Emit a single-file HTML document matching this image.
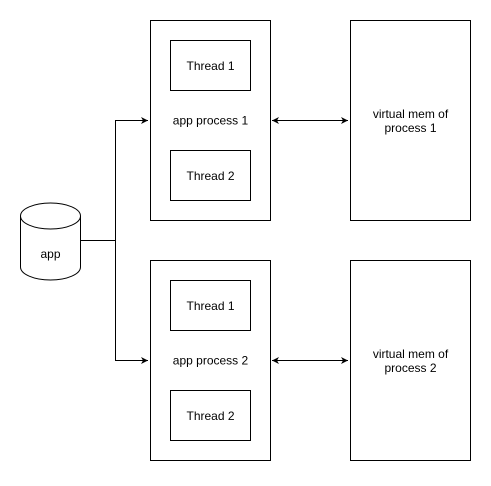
<!DOCTYPE html>
<html><head><style>body{margin:0;background:#fff}</style></head><body>
<svg width="491" height="481" xmlns="http://www.w3.org/2000/svg" font-family="Liberation Sans, sans-serif" font-size="12">
<defs><marker id="a" markerWidth="8" markerHeight="8" refX="7" refY="4" orient="auto-start-reverse" markerUnits="userSpaceOnUse"><path d="M0,0.5 L7,4 L0,7.5 L2,4 Z" fill="#000"/></marker></defs>
<g fill="#fff" stroke="#000" stroke-width="1">
<rect x="150.5" y="20.5" width="120" height="200"/>
<rect x="170.5" y="40.5" width="80" height="50"/>
<rect x="170.5" y="150.5" width="80" height="50"/>
<rect x="350.5" y="20.5" width="120" height="200"/>
<rect x="150.5" y="260.5" width="120" height="200"/>
<rect x="170.5" y="280.5" width="80" height="50"/>
<rect x="170.5" y="390.5" width="80" height="50"/>
<rect x="350.5" y="260.5" width="120" height="200"/>
<path d="M20.5,216 A30,13 0 0 1 80.5,216 L80.5,267 A30,13 0 0 1 20.5,267 Z"/>
<path d="M20.5,216 A30,13 0 0 0 80.5,216" fill="none"/>
</g>
<g fill="none" stroke="#000" stroke-width="1">
<path d="M80.5,240.5 H115.5 V120.5 H148" marker-end="url(#a)"/>
<path d="M115.5,240.5 V360.5 H148" marker-end="url(#a)"/>
<path d="M272,120.5 H348" marker-start="url(#a)" marker-end="url(#a)"/>
<path d="M272,360.5 H348" marker-start="url(#a)" marker-end="url(#a)"/>
</g>
<g text-anchor="middle">
<text x="210.5" y="70">Thread 1</text>
<text x="210.5" y="180">Thread 2</text>
<text x="210.5" y="124.5">app process 1</text>
<text x="210.5" y="310">Thread 1</text>
<text x="210.5" y="420">Thread 2</text>
<text x="210.5" y="364.5">app process 2</text>
<text x="410.5" y="118">virtual mem of</text>
<text x="410.5" y="132">process 1</text>
<text x="410.5" y="358">virtual mem of</text>
<text x="410.5" y="372">process 2</text>
<text x="50.5" y="258">app</text>
</g>
</svg>
</body></html>
